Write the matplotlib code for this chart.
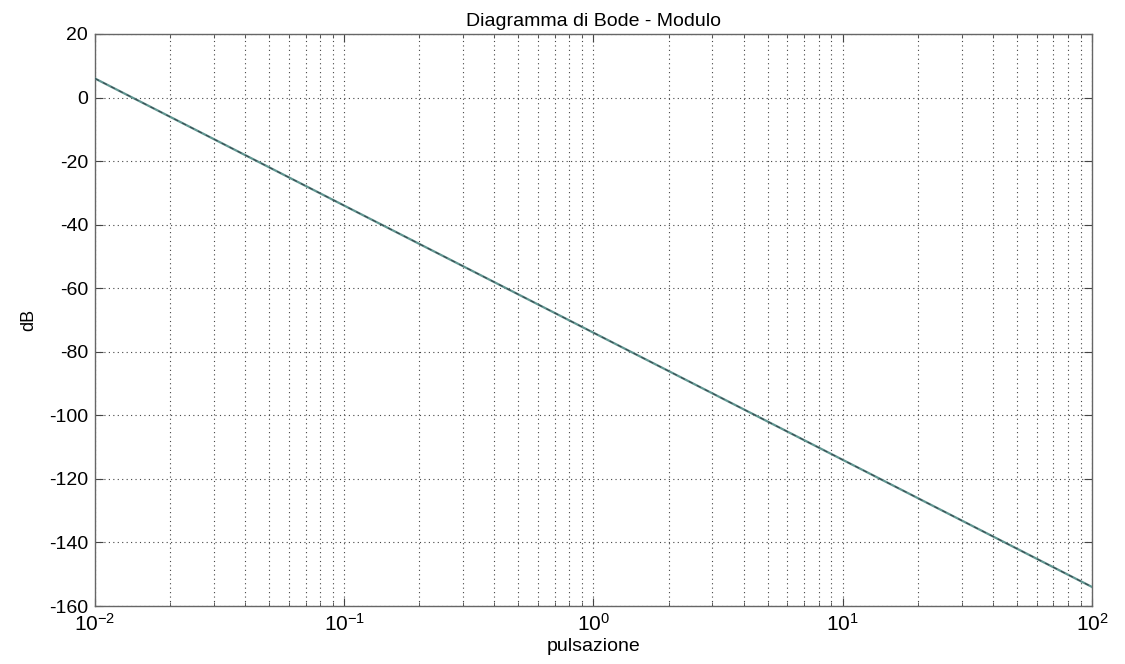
import numpy as np
import matplotlib
matplotlib.use("Agg")
import matplotlib.pyplot as plt
from matplotlib.ticker import LogLocator, NullFormatter

plt.rcParams['font.family'] = ['Liberation Sans', 'DejaVu Sans']
plt.rcParams['axes.unicode_minus'] = False
plt.rcParams['mathtext.fontset'] = 'custom'
plt.rcParams['mathtext.rm'] = 'Liberation Sans'
plt.rcParams['mathtext.it'] = 'Liberation Sans'
plt.rcParams['mathtext.default'] = 'regular'

freq = [0.01, 0.1, 1, 10, 100]
mag_db = [6, -34, -74, -114, -154]
title = "Diagramma di Bode - Modulo"
xlabel = "pulsazione"
ylabel = "dB"
yticks = [20, 0, -20, -40, -60, -80, -100, -120, -140, -160]

fig = plt.figure(figsize=(11.25, 6.64), dpi=100)
ax = fig.add_axes([0.0844, 0.0873, 0.8863, 0.8615])

ax.semilogx(freq, mag_db, color='#5f9590', lw=1.6, zorder=3)
ax.semilogx(freq, mag_db, color='#3a4a50', lw=0.8, ls=(0, (4, 4)), zorder=4)

ax.set_xlim(0.01, 100)
ax.set_ylim(-160, 20)
ax.set_yticks(yticks)
ax.xaxis.set_major_locator(LogLocator(base=10, numticks=10))
ax.xaxis.set_minor_locator(LogLocator(base=10, subs=np.arange(2, 10), numticks=100))
ax.xaxis.set_minor_formatter(NullFormatter())

ax.grid(True, which='major', axis='both', ls=(0, (1, 3)), color='#444444', lw=0.8)
ax.grid(True, which='minor', axis='x', ls=(0, (1, 3)), color='#444444', lw=0.8)

ax.tick_params(which='both', direction='in', top=True, right=True, labelsize=14, color='#444444', pad=5)
ax.tick_params(axis='x', which='major', labelsize=15)
ax.tick_params(which='major', length=6)
ax.tick_params(which='minor', length=3)
for s in ax.spines.values():
    s.set_color('#666666')
    s.set_linewidth(1.0)

ax.set_title(title, fontsize=14, pad=6)
ax.set_xlabel(xlabel, fontsize=14, labelpad=2)
ax.set_ylabel(ylabel, fontsize=13, labelpad=8)

fig.savefig("out.png", dpi=100)
